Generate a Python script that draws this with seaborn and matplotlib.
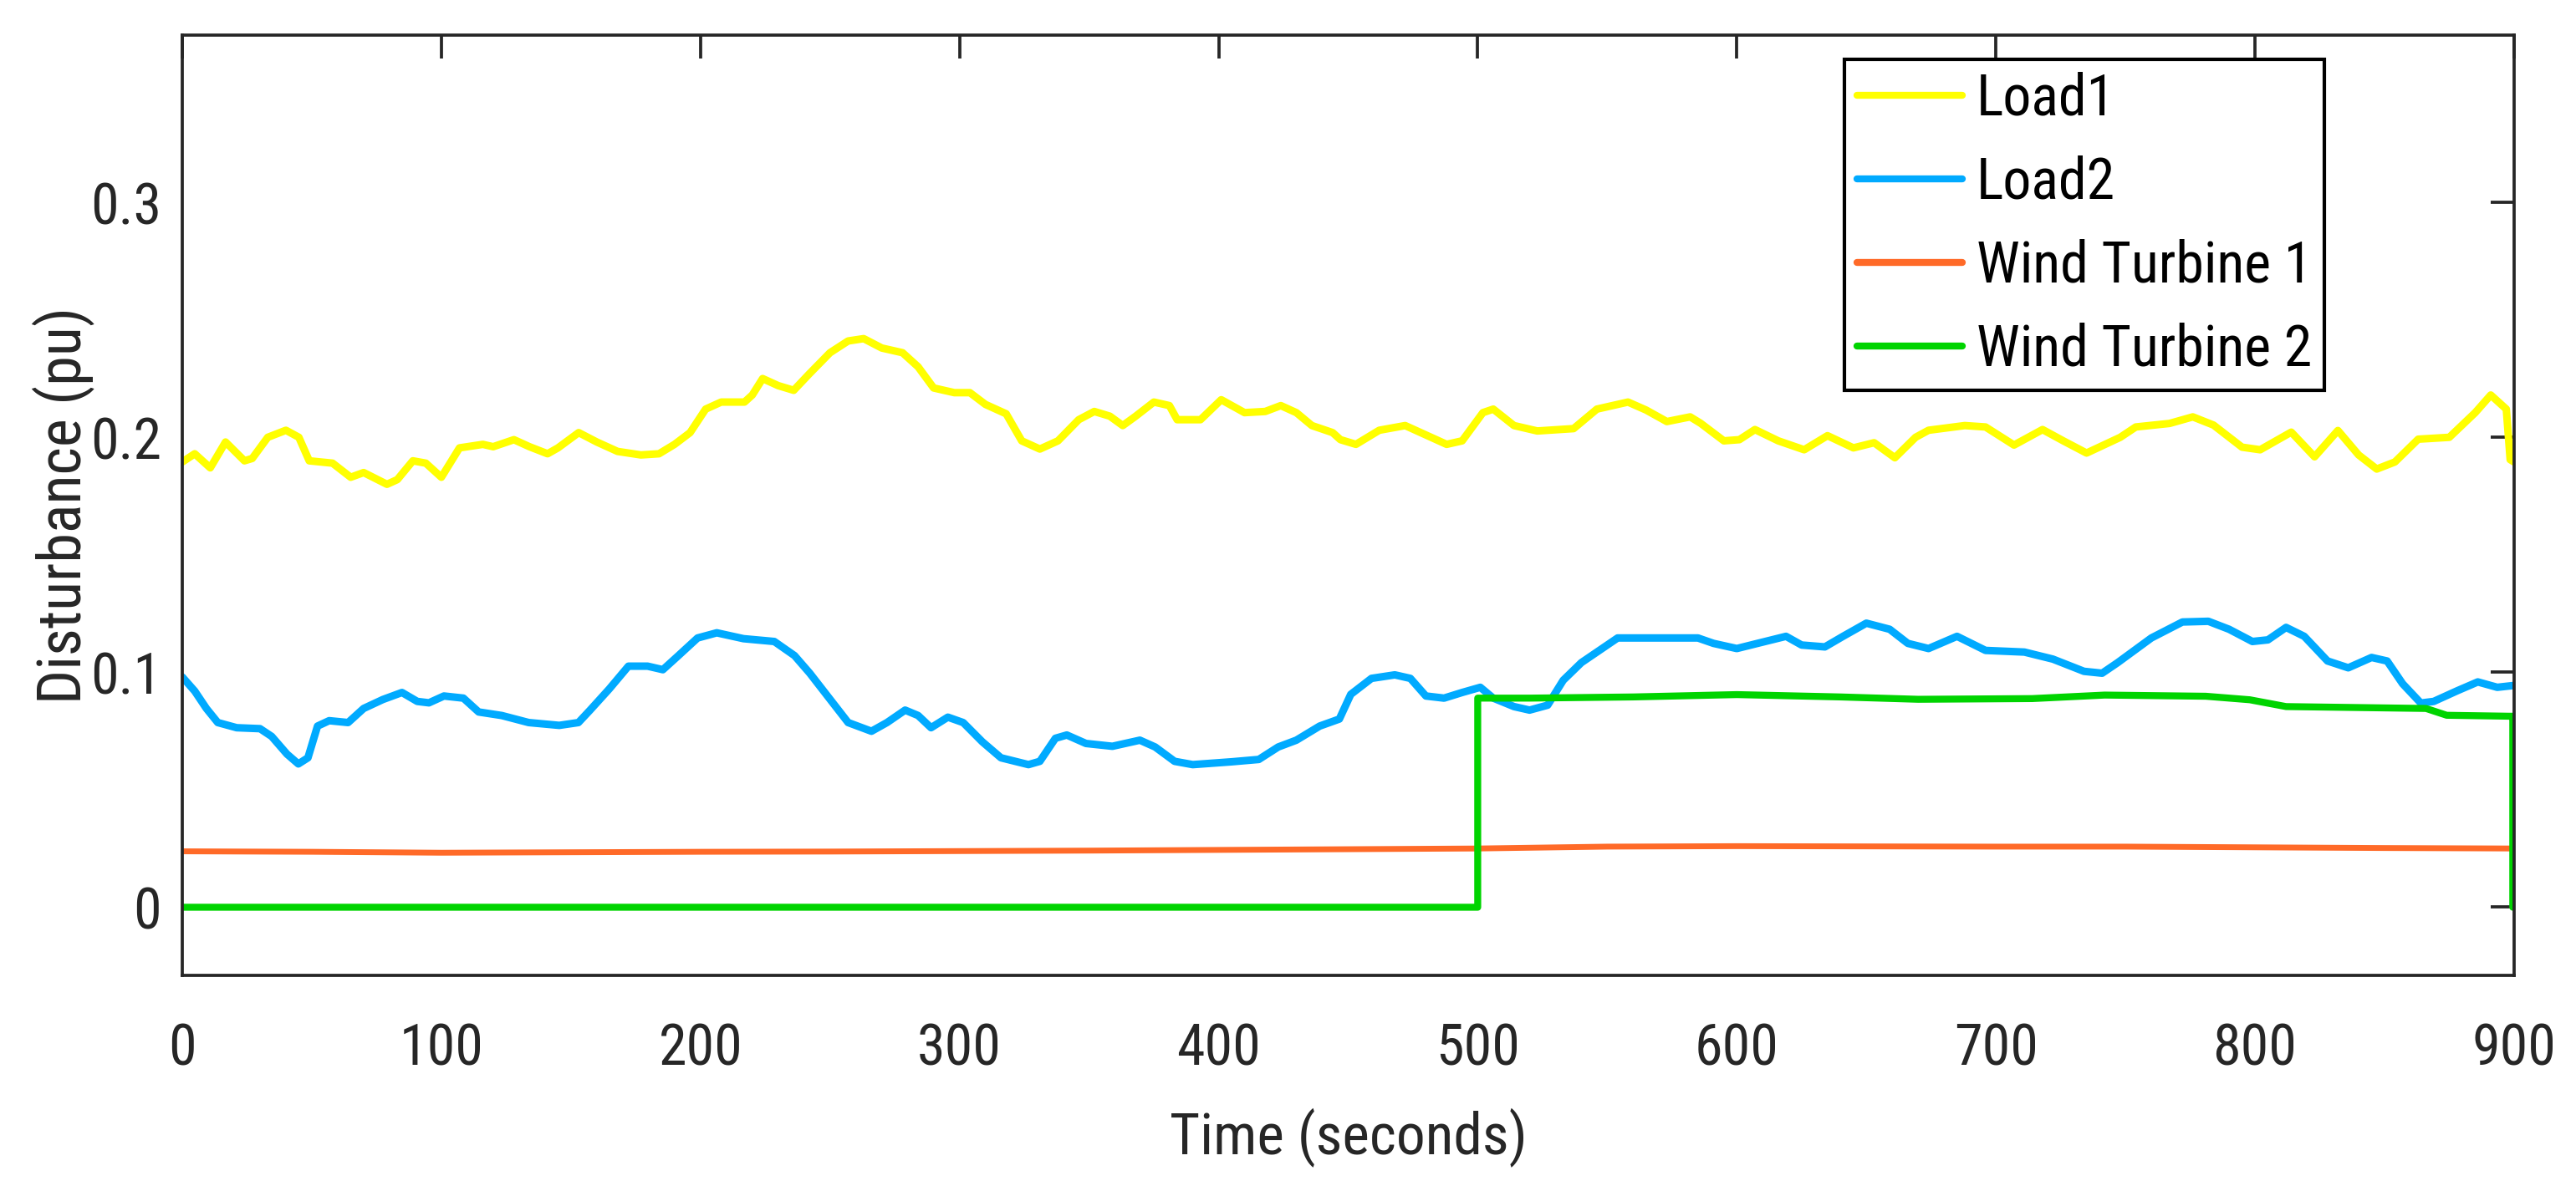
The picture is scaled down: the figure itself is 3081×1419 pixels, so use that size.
import numpy as np
import pandas as pd
import matplotlib
matplotlib.use("Agg")
import matplotlib.pyplot as plt
from matplotlib import font_manager
import seaborn as sns

# ---------------- data ----------------
load1_t = [0, 4.8, 10.8, 16.7, 24, 27, 33, 40, 45, 49, 58, 65, 70, 79, 83, 89, 94, 100,
           107, 116, 120, 128, 134, 141, 145, 153, 160, 168, 177, 184, 190, 196, 202, 208,
           217, 220, 224, 230, 236, 242, 250, 257, 263, 270, 278, 284, 290, 298, 304, 310,
           318, 324, 331, 338, 346, 352, 358, 363, 368, 375, 381, 384, 393, 401, 410, 418,
           424, 430, 436, 444, 447, 453, 462, 472, 480, 488, 494, 502, 506, 514, 523, 537,
           546, 558, 565, 573, 582, 586, 595, 601, 607, 616, 626, 635, 645, 653, 661, 669,
           674, 688, 696, 707, 718, 726, 735, 748, 754, 767, 776, 784, 795, 802, 814, 823,
           832, 840, 847, 854, 863, 875, 885, 891, 897, 898.5, 900]
load1_v = [0.1895, 0.193, 0.187, 0.198, 0.190, 0.191, 0.200, 0.203, 0.200, 0.190, 0.189, 0.183,
           0.185, 0.180, 0.182, 0.190, 0.189, 0.183, 0.1955, 0.197, 0.196, 0.199, 0.196, 0.193,
           0.1955, 0.202, 0.198, 0.194, 0.1925, 0.193, 0.197, 0.202, 0.212, 0.215, 0.215, 0.218,
           0.225, 0.222, 0.220, 0.227, 0.236, 0.241, 0.242, 0.238, 0.236, 0.230, 0.221, 0.219,
           0.219, 0.214, 0.210, 0.1985, 0.195, 0.1985, 0.2075, 0.211, 0.209, 0.205, 0.209, 0.215,
           0.2135, 0.2075, 0.2075, 0.216, 0.2105, 0.211, 0.2135, 0.2105, 0.205, 0.202, 0.199,
           0.197, 0.203, 0.205, 0.201, 0.197, 0.1985, 0.2105, 0.212, 0.205, 0.2027, 0.2037,
           0.212, 0.215, 0.2116, 0.2067, 0.2087, 0.206, 0.1985, 0.199, 0.2033, 0.1985, 0.1947,
           0.2007, 0.1955, 0.1977, 0.1913, 0.200, 0.203, 0.205, 0.2044, 0.1967, 0.2033, 0.1985,
           0.1933, 0.200, 0.2044, 0.2059, 0.2087, 0.2052, 0.1958, 0.1947, 0.2022, 0.1917, 0.2029,
           0.1925, 0.1865, 0.1895, 0.1992, 0.200, 0.2105, 0.218, 0.212, 0.1905, 0.1895]

load2_t = [0, 4.8, 9.3, 13.7, 21, 30, 34.5, 40.4, 44.8, 48.5, 52.2, 56.7, 64, 70, 77.4, 84.8,
           90.7, 95.2, 101, 108.5, 114.4, 123.3, 133.7, 145.5, 152.9, 157.4, 164.8, 172.2, 179.6,
           185.5, 191.5, 198.9, 206.3, 216.6, 228.5, 236.3, 242.2, 249.6, 257, 266, 272, 279, 284,
           289, 295.5, 301.4, 308.8, 316, 326.6, 331, 337, 341.4, 348.8, 359, 369.6, 375.5, 383,
           390, 405, 415.5, 423, 430, 439, 446.6, 451, 459, 468, 474, 480, 487, 494, 501, 506,
           514, 520, 527, 533, 540, 546, 554, 568, 585, 591, 600, 608, 619, 625, 634, 641, 650,
           659, 666, 674, 685, 696, 711, 722, 734, 741, 747, 760, 772, 782, 790, 799, 805, 812,
           819, 828, 836, 845, 851, 857, 864, 869, 878, 886, 893.5, 900]
load2_v = [0.098, 0.092, 0.0846, 0.0786, 0.0764, 0.076, 0.0727, 0.0652, 0.061, 0.0636, 0.0771,
           0.0794, 0.0786, 0.0846, 0.0884, 0.0914, 0.0876, 0.087, 0.0899, 0.089, 0.0831, 0.0816,
           0.0786, 0.0774, 0.0786, 0.0839, 0.0929, 0.1026, 0.1026, 0.1011, 0.1071, 0.1146, 0.1168,
           0.1143, 0.1131, 0.1071, 0.0996, 0.0891, 0.0786, 0.0749, 0.0786, 0.0839, 0.0816, 0.0764,
           0.0809, 0.0786, 0.0704, 0.0636, 0.0607, 0.0621, 0.0719, 0.0733, 0.0697, 0.0685, 0.0711,
           0.0682, 0.0621, 0.0607, 0.0619, 0.0629, 0.0682, 0.0711, 0.0771, 0.0801, 0.0906, 0.0974,
           0.0989, 0.0974, 0.0899, 0.089, 0.0914, 0.0936, 0.089, 0.0854, 0.0839, 0.086, 0.0966,
           0.1041, 0.1086, 0.1146, 0.1146, 0.1146, 0.1123, 0.1101, 0.1123, 0.1153, 0.1116, 0.1108,
           0.1153, 0.1209, 0.1183, 0.1123, 0.1101, 0.1153, 0.1093, 0.1086, 0.1056, 0.1004, 0.0996,
           0.1041, 0.1146, 0.1214, 0.1217, 0.1183, 0.1131, 0.1138, 0.1191, 0.1153, 0.1048, 0.1019,
           0.1063, 0.1048, 0.0951, 0.0869, 0.0876, 0.0921, 0.0959, 0.0936, 0.0944]

wt1_t = [0, 50, 100, 150, 200, 250, 300, 350, 400, 450, 500, 550, 600, 650, 700, 750, 800, 850, 900]
wt1_v = [0.0238, 0.0236, 0.0232, 0.0234, 0.0236, 0.0237, 0.0239, 0.0241, 0.0244, 0.0247, 0.0250,
         0.0258, 0.0260, 0.0259, 0.0258, 0.0258, 0.0255, 0.0252, 0.0250]

wt2_t = [0, 500, 500, 520, 560, 600, 640, 670, 714, 742, 781, 798, 812, 866, 874, 898, 899.5, 899.5]
wt2_v = [0, 0, 0.089, 0.089, 0.0895, 0.0905, 0.0895, 0.0885, 0.0888, 0.0903, 0.0898, 0.0883,
         0.0854, 0.0846, 0.0817, 0.0813, 0.0813, 0]

series_names = ["Load1", "Load2", "Wind Turbine 1", "Wind Turbine 2"]
series_colors = ["#FFFF00", "#00AAFF", "#FF6A28", "#00D400"]

x_ticks = [0, 100, 200, 300, 400, 500, 600, 700, 800, 900]
y_ticks = [0, 0.1, 0.2, 0.3]
y_tick_labels = ["0", "0.1", "0.2", "0.3"]

# ---------------- fonts ----------------
available = {f.name for f in font_manager.fontManager.ttflist}
narrow_candidates = ["Liberation Sans Narrow", "Arial Narrow", "Roboto Condensed",
                     "DejaVu Sans Condensed", "Open Sans Condensed", "Noto Sans Condensed"]
chosen = None
for c in narrow_candidates:
    if c in available:
        chosen = c
        break
if chosen is None:
    chosen = "Liberation Sans"
    fsize = 44
else:
    fsize = 49

# ---------------- plotting ----------------
sns.set_style("white")
plt.rcParams["font.family"] = [chosen, "Liberation Sans", "DejaVu Sans"]

fig = plt.figure(figsize=(30.81, 14.19), dpi=100)
ax = fig.add_axes([0.07076, 0.17759, 0.9052, 0.79246])

data = [(load1_t, load1_v), (load2_t, load2_v), (wt1_t, wt1_v), (wt2_t, wt2_v)]
widths = [6.5, 6.5, 5.0, 6.0]
for (t, v), name, col, lw in zip(data, series_names, series_colors, widths):
    df = pd.DataFrame({"t": t, "v": v})
    sns.lineplot(data=df, x="t", y="v", ax=ax, color=col, linewidth=lw,
                 label=name, estimator=None, sort=False, legend=False)

ax.set_xlim(0, 900)
ax.set_ylim(-0.029, 0.371)
ax.set_xticks(x_ticks)
ax.set_xticklabels([str(x) for x in x_ticks])
ax.set_yticks(y_ticks)
ax.set_yticklabels(y_tick_labels)

dark = "#262626"
for s in ax.spines.values():
    s.set_visible(True)
    s.set_color(dark)
    s.set_linewidth(2.7)

ax.tick_params(axis="both", which="major", direction="in", length=20, width=2.7,
               colors=dark, labelsize=fsize, top=True, right=True)
ax.tick_params(axis="x", pad=40)
ax.tick_params(axis="y", pad=18)

ax.set_xlabel("Time (seconds)", fontsize=fsize + 1, color=dark, labelpad=26)
ax.set_ylabel("Disturbance (pu)", fontsize=fsize + 3, color=dark, labelpad=-4)

leg = ax.legend(loc="upper right", bbox_to_anchor=(0.9186, 0.975), fontsize=fsize,
                frameon=True, fancybox=False, shadow=False, framealpha=1,
                handlelength=1.85, handletextpad=0.25, labelspacing=0.5,
                borderpad=0.22, borderaxespad=0)
leg.get_frame().set_edgecolor("black")
leg.get_frame().set_linewidth(3)
for line in leg.get_lines():
    line.set_linewidth(6)
for txt in leg.get_texts():
    txt.set_color("black")

fig.savefig("out.png", dpi=100, facecolor="white")
